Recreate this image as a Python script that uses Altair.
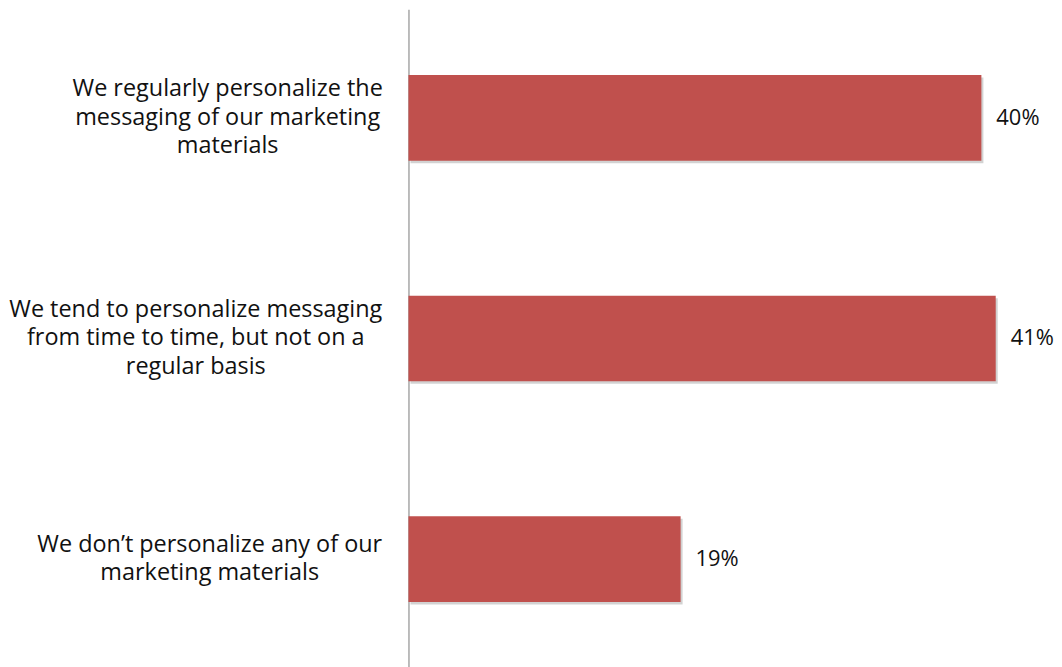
import altair as alt
import pandas as pd

CATEGORY_LINES = [
    ["We regularly personalize the", "messaging of our marketing", "materials"],
    ["We tend to personalize messaging", "from time to time, but not on a", "regular basis"],
    ["We don\u2019t personalize any of our", "marketing materials"],
]
VALUES = [40, 41, 19]
VALUE_LABELS = ["40%", "41%", "19%"]

CATEGORIES = ["|".join(lines) for lines in CATEGORY_LINES]
LABEL_PADDING = [182, 214, 200]  # style: centre of each label block
LINE_HEIGHT = 28.5

df = pd.DataFrame({"category": CATEGORIES, "value": VALUES, "label": VALUE_LABELS})

pad_conds = [
    {"test": "datum.value === '%s'" % c, "value": p}
    for c, p in zip(CATEGORIES, LABEL_PADDING)
]
off_conds = [
    {"test": "datum.value === '%s'" % c, "value": -(len(lines) - 1) / 2 * LINE_HEIGHT}
    for c, lines in zip(CATEGORIES, CATEGORY_LINES)
]

FONT = "Open Sans"
BAR = "#C0504D"

y_enc = alt.Y(
    "category:N",
    sort=CATEGORIES,
    scale=alt.Scale(paddingInner=0.612, paddingOuter=0.298),
    axis=alt.Axis(
        title=None,
        ticks=False,
        tickSize=0,
        grid=False,
        domain=True,
        domainColor="#a6a6a6",
        domainWidth=1.5,
        labelExpr="split(datum.label, '|')",
        labelAlign="center",
        labelBaseline="middle",
        labelPadding={"condition": pad_conds, "value": 200},
        labelOffset={"condition": off_conds, "value": 0},
        labelFont=FONT,
        labelFontSize=23.5,
        labelLineHeight=LINE_HEIGHT,
        labelColor="#111111",
        labelLimit=0,
        minExtent=399,
        maxExtent=399,
    ),
)
x_enc = alt.X("value:Q", scale=alt.Scale(domain=[0, 45], nice=False, zero=True), axis=None)

base = alt.Chart(df).encode(y=y_enc, x=x_enc)

shadow = base.mark_bar(color="#7f7f7f", opacity=0.35, xOffset=2, yOffset=2.5)
bars = base.mark_bar(color=BAR)
text = base.mark_text(
    align="left", baseline="middle", dx=15, font=FONT, fontSize=22, color="#111111"
).encode(text="label:N")

chart = (
    alt.layer(shadow, bars, text)
    .properties(width=647, height=661, padding=0)
    .configure_view(stroke=None)
)

chart.save("out.html", embed_options={"renderer": "svg", "actions": False})
